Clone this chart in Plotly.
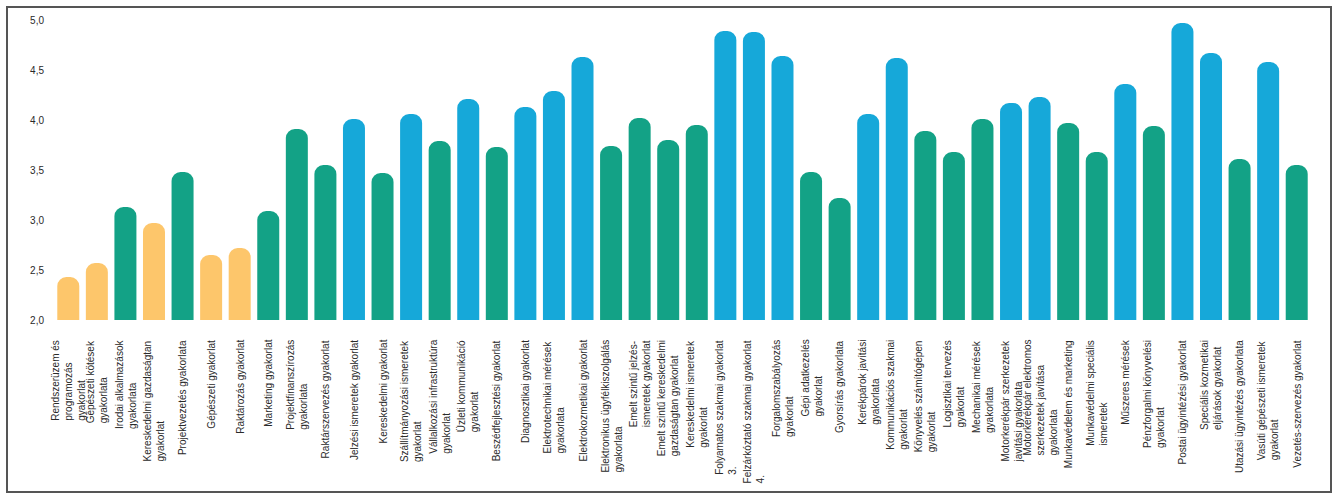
import plotly.graph_objects as go

categories = [
    "Rendszerüzem és<br>programozás<br>gyakorlat",
    "Gépészeti kötések<br>gyakorlata",
    "Irodai alkalmazások<br>gyakorlata",
    "Kereskedelmi gazdaságtan<br>gyakorlat",
    "Projektvezetés gyakorlata",
    "Gépészeti gyakorlat",
    "Raktározás gyakorlat",
    "Marketing gyakorlat",
    "Projektfinanszírozás<br>gyakorlata",
    "Raktárszervezés gyakorlat",
    "Jelzési ismeretek gyakorlat",
    "Kereskedelmi gyakorlat",
    "Szállítmányozási ismeretek<br>gyakorlat",
    "Vállalkozási infrastruktúra<br>gyakorlat",
    "Üzleti kommunikáció<br>gyakorlat",
    "Beszédfejlesztési gyakorlat",
    "Diagnosztikai gyakorlat",
    "Elektrotechnikai mérések<br>gyakorlata",
    "Elektrokozmetikai gyakorlat",
    "Elektronikus ügyfélkiszolgálás<br>gyakorlata",
    "Emelt szintű jelzés-<br>ismeretek gyakorlat",
    "Emelt szintű kereskedelmi<br>gazdaságtan gyakorlat",
    "Kereskedelmi ismeretek<br>gyakorlat",
    "Folyamatos szakmai gyakorlat<br>3.",
    "Felzárkóztató szakmai gyakorlat<br>4.",
    "Forgalomszabályozás<br>gyakorlat",
    "Gépi adatkezelés<br>gyakorlat",
    "Gyorsírás gyakorlata",
    "Kerékpárok javítási<br>gyakorlata",
    "Kommunikációs szakmai<br>gyakorlat",
    "Könyvelés számítógépen<br>gyakorlat",
    "Logisztikai tervezés<br>gyakorlat",
    "Mechanikai mérések<br>gyakorlata",
    "Motorkerékpár szerkezetek<br>javítási gyakorlata",
    "Motorkerékpár elektromos<br>szerkezetek javítása<br>gyakorlata",
    "Munkavédelem és marketing",
    "Munkavédelmi speciális<br>ismeretek",
    "Műszeres mérések",
    "Pénzforgalmi könyvelési<br>gyakorlat",
    "Postai ügyintézési gyakorlat",
    "Speciális kozmetikai<br>eljárások gyakorlat",
    "Utazási ügyintézés gyakorlata",
    "Vasúti gépészeti ismeretek<br>gyakorlat",
    "Vezetés-szervezés gyakorlat",
]

values = [
    2.43, 2.57, 3.13, 2.97, 3.48, 2.65, 2.72, 3.09, 3.91, 3.55,
    4.01, 3.47, 4.06, 3.79, 4.21, 3.73, 4.13, 4.29, 4.63, 3.74,
    4.02, 3.80, 3.95, 4.89, 4.88, 4.64, 3.48, 3.22, 4.06, 4.62,
    3.89, 3.68, 4.01, 4.17, 4.23, 3.97, 3.68, 4.36, 3.94, 4.97,
    4.67, 3.61, 4.58, 3.55,
]

groups = [
    "o", "o", "g", "o", "g", "o", "o", "g", "g", "g",
    "b", "g", "b", "g", "b", "g", "b", "b", "b", "g",
    "g", "g", "g", "b", "b", "b", "g", "g", "b", "b",
    "g", "g", "g", "b", "b", "g", "g", "b", "g", "b",
    "b", "g", "b", "g",
]

palette = {"o": "#FDC66B", "g": "#13A286", "b": "#16A8D9"}
colors = [palette[g] for g in groups]

y_ticks = [2.0, 2.5, 3.0, 3.5, 4.0, 4.5, 5.0]

xs = list(range(len(categories)))

fig = go.Figure(
    go.Bar(
        x=xs,
        y=values,
        marker=dict(color=colors, cornerradius=9, line=dict(width=0)),
        hoverinfo="skip",
    )
)

W, H = 1336, 495
L, R, T, B = 54, 1336 - 1311, 20, 495 - 320
pw, ph = W - L - R, H - T - B


def px_x(p):
    return (p - L) / pw


def px_y(p):
    return (T + ph - p) / ph


annotations = [
    dict(
        x=x,
        y=0,
        xref="x",
        yref="paper",
        text=lab,
        textangle=-90,
        showarrow=False,
        xanchor="center",
        yanchor="top",
        align="left",
        yshift=-18,
        font=dict(size=10, color="#2a2a2a"),
    )
    for x, lab in zip(xs, categories)
]

fig.update_layout(
    width=W,
    height=H,
    margin=dict(l=L, r=R, t=T, b=B, pad=0),
    paper_bgcolor="white",
    plot_bgcolor="white",
    bargap=0.23,
    showlegend=False,
    separators=", ",
    font=dict(family="Liberation Sans, Arial, sans-serif", color="#2a2a2a", size=10),
    xaxis=dict(
        range=[-0.5, len(categories) - 0.5],
        showgrid=False,
        zeroline=False,
        showline=False,
        ticks="",
        showticklabels=False,
    ),
    yaxis=dict(
        range=[2.0, 5.0],
        tickmode="array",
        tickvals=y_ticks,
        tickformat=".1f",
        showgrid=False,
        zeroline=False,
        showline=False,
        ticks="",
        tickfont=dict(size=10, color="#2a2a2a"),
        ticklabelstandoff=9,
    ),
    annotations=annotations,
    shapes=[
        dict(
            type="rect",
            xref="paper",
            yref="paper",
            x0=px_x(7),
            x1=px_x(1331),
            y0=px_y(492),
            y1=px_y(7),
            line=dict(color="#555555", width=2),
            fillcolor="rgba(0,0,0,0)",
            layer="below",
        )
    ],
)

fig.write_html(
    "out.html",
    config={"displayModeBar": False},
    post_script="document.body.style.margin='0';document.body.style.overflow='hidden';",
)
